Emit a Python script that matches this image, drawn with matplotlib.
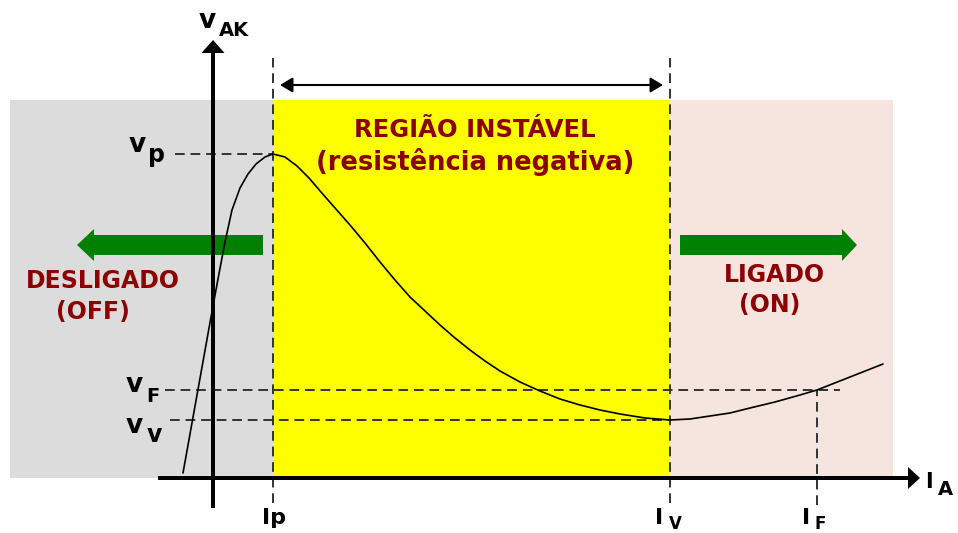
import matplotlib
matplotlib.use("Agg")
import matplotlib.pyplot as plt

# characteristic points (arbitrary units, origin at the axes crossing)
I_P, I_V, I_F = 60, 457, 604
V_P, V_F, V_V = 324, 88, 58

# V x I curve
curve_i = [-30, -23, -16, -9, -2, 5, 12, 19, 27, 35, 43, 52, 60,
           72, 84, 96, 108, 122, 137, 152, 167, 182, 197, 212, 227, 242,
           257, 272, 287, 307, 327, 347, 367, 387, 407, 432, 457,
           477, 497, 517, 537, 562, 587, 604, 637, 670]
curve_v = [5, 44, 83, 122, 161, 199, 236, 268, 290, 304, 314, 321, 324,
           321, 312, 300, 286, 270, 253, 235, 216, 198, 181, 167, 153, 140,
           128, 117, 107, 96, 87, 79, 73, 68, 64, 60, 58,
           59, 62, 65, 70, 76, 83, 88, 101, 114]

RED = "#8B0000"
GREEN = "#008000"
DASH = "#333333"

fig = plt.figure(figsize=(9.58, 5.33), dpi=100)
ax = fig.add_axes([0, 0, 1, 1])
ax.set_xlim(-213, 745)
ax.set_ylim(-55, 478)
ax.axis("off")

# background regions
top = 378
ax.fill_between([-203, I_P], 0, top, color="#DCDCDC", lw=0, zorder=0)
ax.fill_between([I_P, I_V], 0, top, color="#FFFF00", lw=0, zorder=0)
ax.fill_between([I_V, 680], 0, top, color="#F6E4DE", lw=0, zorder=0)

# green arrows
ax.arrow(50, 233, -186, 0, width=20, head_width=32, head_length=17,
         length_includes_head=True, color=GREEN, lw=0, zorder=1)
ax.arrow(467, 233, 177, 0, width=20, head_width=32, head_length=15,
         length_includes_head=True, color=GREEN, lw=0, zorder=1)

# dashed guide lines
dash_kw = dict(color=DASH, lw=1.4, dashes=(5, 3), zorder=2)
ax.plot([I_P, I_P], [-25, 420], **dash_kw)
ax.plot([I_V, I_V], [-25, 420], **dash_kw)
ax.plot([I_F, I_F], [-27, V_F], **dash_kw)
ax.plot([-38, I_P], [V_P, V_P], **dash_kw)
ax.plot([-48, 627], [V_F, V_F], **dash_kw)
ax.plot([-43, I_V], [V_V, V_V], **dash_kw)

# curve
ax.plot(curve_i, curve_v, color="black", lw=1.2, zorder=3,
        solid_joinstyle="round", solid_capstyle="round")

# axes with arrow heads
ax.arrow(0, -30, 0, 468, width=4, head_width=23, head_length=13,
         length_includes_head=True, color="black", lw=0, zorder=4)
ax.arrow(-55, 0, 762, 0, width=4, head_width=22, head_length=12,
         length_includes_head=True, color="black", lw=0, zorder=4)

# double arrow over unstable region
ax.annotate("", xy=(I_P + 7, 393), xytext=(I_V - 7, 393),
            arrowprops=dict(arrowstyle="<|-|>,head_length=0.5,head_width=0.3",
                            mutation_scale=15, lw=1.5, color="black",
                            shrinkA=0, shrinkB=0), zorder=4)

def lab(x, y, s, size, **kw):
    ax.text(x, y, s, fontsize=size, fontweight="bold", ha="center",
            va="baseline", family="DejaVu Sans", **kw)

# axis labels
lab(-6, 450, "v", 19)
lab(21, 442, "AK", 14)
lab(716, -10, "I", 15)
lab(732, -17, "A", 14)

lab(-76, 326, "v", 19)
lab(-56, 316, "p", 17)
lab(-79, 86, "v", 19)
lab(-60, 76, "F", 14)
lab(-79, 45, "v", 19)
lab(-59, 36, "v", 17)

lab(I_P + 1, -46, "Ip", 16)
lab(I_V - 11, -46, "I", 16)
lab(I_V + 5, -51, "V", 12)
lab(I_F - 11, -46, "I", 16)
lab(I_F + 3, -51, "F", 12)

# region texts
lab(262, 341, "REGIÃO INSTÁVEL", 17.5, color=RED)
lab(262, 308, "(resistência negativa)", 18.5, color=RED)
lab(-110, 190, "DESLIGADO", 17, color=RED)
lab(-120, 159, "(OFF)", 17, color=RED)
lab(561, 196, "LIGADO", 17, color=RED)
lab(557, 166, "(ON)", 17, color=RED)

fig.savefig("out.png", dpi=100)
